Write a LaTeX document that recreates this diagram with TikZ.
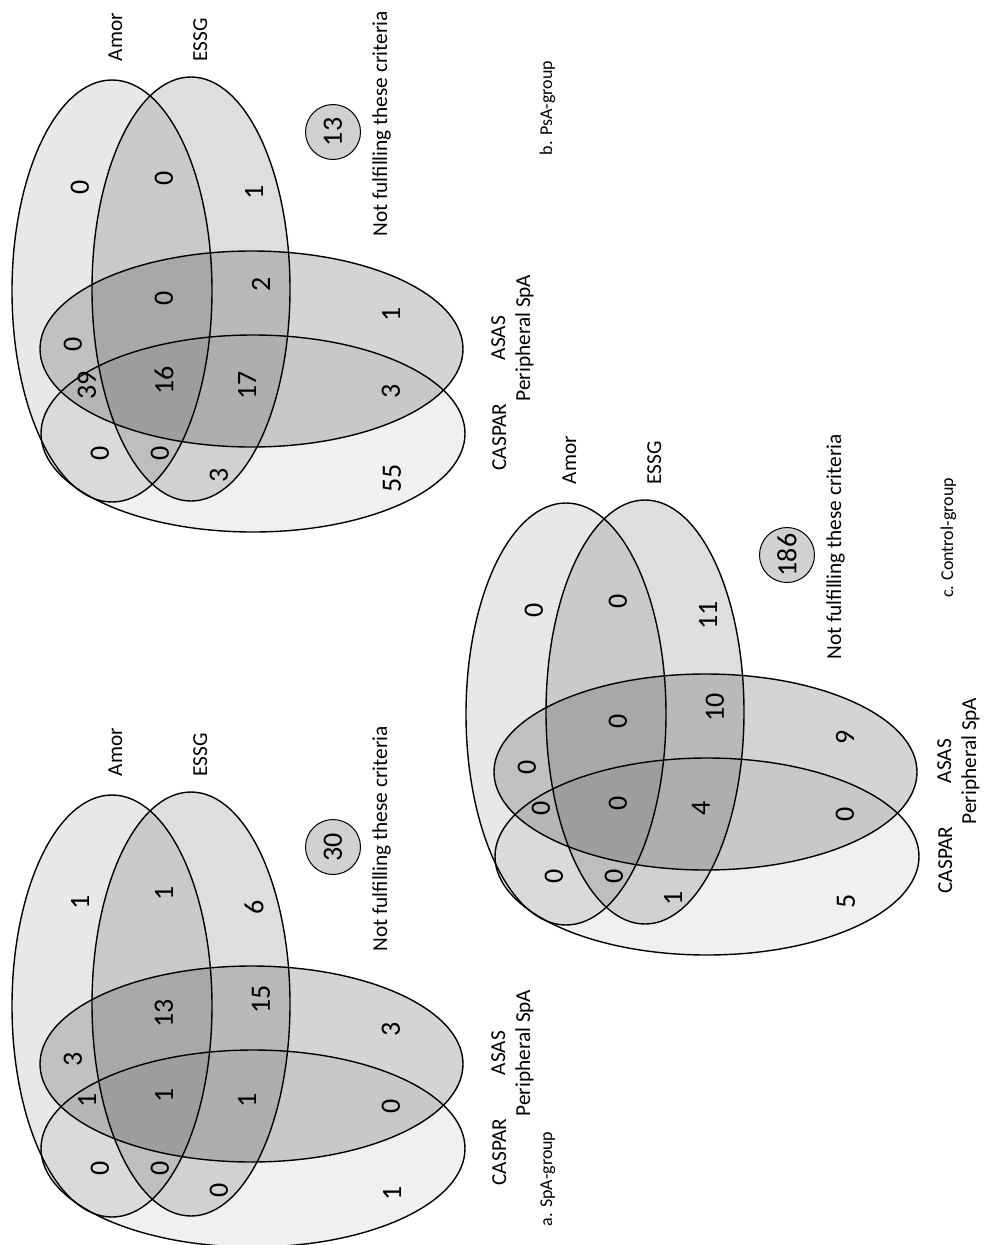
\documentclass[tikz,border=0pt]{standalone}
\usepackage{fontspec}
\setmainfont{Carlito}
\newcommand\vennpanel[6]{%
\begin{scope}[shift={(#1,#2)}, name prefix=#3-]
  \path[caspar] (253,433.5) ellipse [x radius=212pt, y radius=98.5pt];
  \path[asas] (251.5,349) ellipse [x radius=211.5pt, y radius=98pt];
  \path[amor] (112,291) ellipse [x radius=100pt, y radius=211pt];
  \path[essg] (191,289) ellipse [x radius=99pt, y radius=212pt];
  \coordinate (p1) at (80,187);
  \coordinate (p2) at (164,178);
  \coordinate (p3) at (254,192);
  \coordinate (p4) at (73,344);
  \coordinate (p5) at (164,298);
  \coordinate (p6) at (261,284);
  \coordinate (p7) at (391,314);
  \coordinate (p8) at (87,385);
  \coordinate (p9) at (164,380);
  \coordinate (p10) at (247,385);
  \coordinate (p11) at (391,391);
  \coordinate (p12) at (100,453);
  \coordinate (p13) at (160,453);
  \coordinate (p14) at (219,475);
  \coordinate (p15) at (392,478);
  \foreach \i/\v in {#5} \node[num] (n\i) at (p\i) {\v};
  \node[outcircle] (out) at (333,132) {#4};
  \node[lbl] (lamor) at (122,37) {Amor};
  \node[lbl] (lessg) at (207,40) {ESSG};
  \node[lbl] (lnot) at (387,124) {Not fulfilling these criteria};
  \node[lbl] (lcaspar) at ({506+(#6)},437) {CASPAR};
  \node[lbl] (lasas) at ({505+(#6)},338) {ASAS};
  \node[lbl] (lperi) at ({530+(#6)},338) {Peripheral SpA};
\end{scope}}
\begin{document}
\begin{tikzpicture}[x=1pt,y=-1pt,
  vline/.style={draw=black, line width=1.4pt},
  caspar/.style={vline, fill=black, fill opacity=0.06},
  asas/.style={vline, fill=black, fill opacity=0.17},
  amor/.style={vline, fill=black, fill opacity=0.09},
  essg/.style={vline, fill=black, fill opacity=0.13},
  num/.style={font=\fontsize{28}{32}\selectfont, rotate=90, inner sep=0pt},
  lbl/.style={font=\fontsize{21.3}{25}\selectfont, rotate=90, inner sep=0pt, anchor=base},
  captext/.style={font=\fontsize{18}{21}\selectfont, rotate=90, inner sep=0pt, anchor=base},
  outcircle/.style={circle, draw=black, line width=1pt, fill=black!18, minimum size=55pt,
    inner sep=0pt, font=\fontsize{28}{32}\selectfont, rotate=90}]
\useasboundingbox (0,0) rectangle (983,1245);
\vennpanel{0}{0}{b}{13}{1/0,2/0,3/1,4/0,5/0,6/2,7/1,8/39,9/16,10/17,11/3,12/0,13/0,14/3,15/55}{0}
\vennpanel{0}{715}{a}{30}{1/1,2/1,3/6,4/3,5/13,6/15,7/3,8/1,9/1,10/1,11/0,12/0,13/0,14/0,15/1}{0}
\vennpanel{454}{423}{c}{186}{1/0,2/0,3/11,4/0,5/0,6/10,7/9,8/0,9/0,10/4,11/0,12/0,13/0,14/1,15/5}{-8}
\node[captext] (capa) at (552,1179) {a. SpA-group};
\node[captext] (capb) at (552,108) {b. PsA-group};
\node[captext] (capc) at (953,538) {c. Control-group};
\end{tikzpicture}
\end{document}
